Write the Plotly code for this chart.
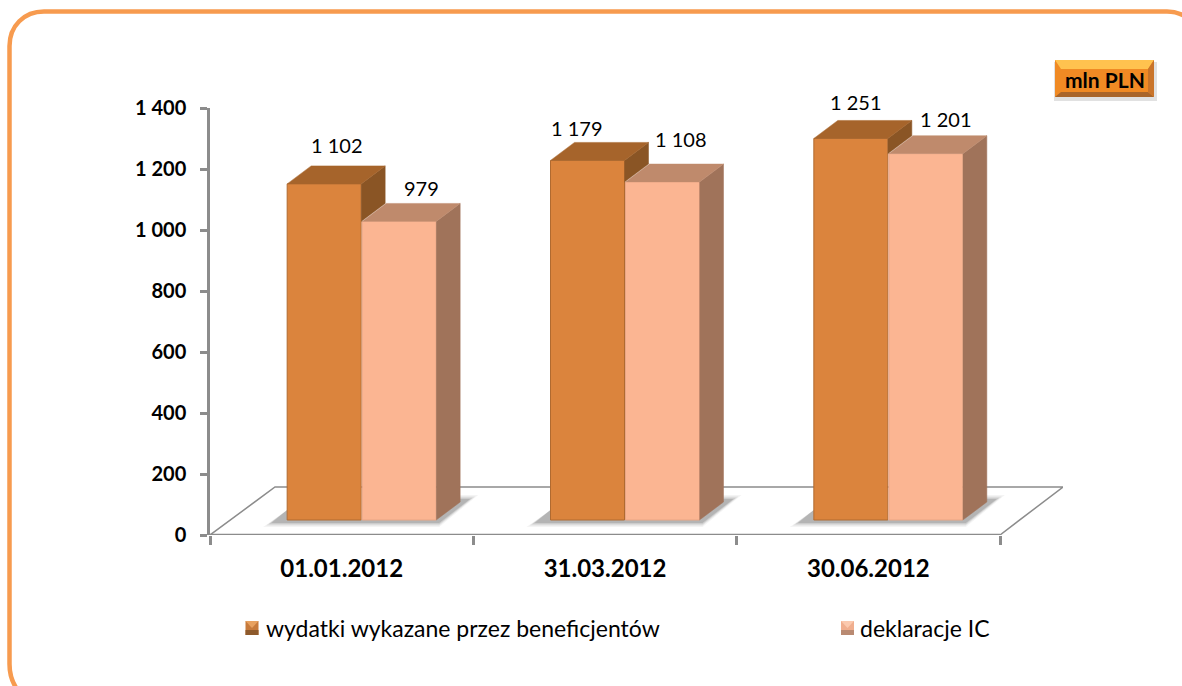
import plotly.graph_objects as go

categories = ["01.01.2012", "31.03.2012", "30.06.2012"]
series_1_name = "wydatki wykazane przez beneficjentów"
series_2_name = "deklaracje IC"
series_1 = [1102, 1179, 1251]
series_2 = [979, 1108, 1201]
y_ticks = [0, 200, 400, 600, 800, 1000, 1200, 1400]
y_tick_labels = ["0", "200", "400", "600", "800", "1 000", "1 200", "1 400"]
value_labels_1 = ["1 102", "1 179", "1 251"]
value_labels_2 = ["979", "1 108", "1 201"]

W, H = 1182, 686
L, R, T, B = 210, 1063, 108, 535
CAT = (1000 - L) / 3
UY = (B - T) / 1400
FONT = "Lato"
BASE = 15 / UY
DX = 24 / CAT
DY = 18 / UY
BW = 74 / CAT
SHIFT = 20 / CAT
GAP = 37.5 / CAT

def fx(p): return (p - L) / (R - L)
def fy(p): return (B - p) / (B - T)

def xdata(px_offset): return px_offset / CAT
def ydata(px_offset): return px_offset / UY

C1 = dict(front="#DB843D", top="#A6642B", side="#8A5525", edge="#B06A30")
C2 = dict(front="#FBB592", top="#BF8A6C", side="#A0735A", edge="#E8A584")

fig = go.Figure()
x1 = [i + 0.5 + SHIFT - GAP for i in range(3)]
x2 = [i + 0.5 + SHIFT + GAP for i in range(3)]

for x, v, c, name in [(x1, series_1, C1, series_1_name), (x2, series_2, C2, series_2_name)]:
    fig.add_trace(go.Bar(x=x, y=v, base=BASE, width=BW, name=name, hoverinfo="skip",
                         marker=dict(color=c["front"], line=dict(color=c["edge"], width=1))))

def poly(xs, ys, color):
    fig.add_trace(go.Scatter(x=xs, y=ys, mode="lines", fill="toself", fillcolor=color,
                             line=dict(color=color, width=0.5), hoverinfo="skip", showlegend=False))

for i in range(3):
    for x, v, c, low in [(x1[i], series_1[i], C1, series_2[i]), (x2[i], series_2[i], C2, 0)]:
        xl, xr = x - BW / 2, x + BW / 2
        top = BASE + v
        bottom = BASE + low
        poly([xr, xr + DX, xr + DX, xr], [top, top + DY, bottom + DY, bottom], c["side"])
        poly([xl, xl + DX, xr + DX, xr], [top, top + DY, top + DY, top], c["top"])

shapes = []
# floor
floor_h = ydata(B - 487)
floor_dx = xdata(65)
shapes.append(dict(type="path", xref="x", yref="y", layer="below",
                   path=f"M 0,0 L {floor_dx},{floor_h} L {xdata(R - L)},{floor_h} L 3,0",
                   line=dict(color="#8C8C8C", width=1.5)))
# x axis line
shapes.append(dict(type="line", xref="x", yref="y", x0=0, x1=3, y0=0, y1=0, layer="below",
                   line=dict(color="#8C8C8C", width=2.5)))
# floor shadows
for i in range(3):
    left = x1[i] - BW / 2
    right = x2[i] + BW / 2
    for grow, alpha in [(8, 0.06), (5, 0.10), (2.5, 0.14), (0, 0.18)]:
        a = xdata(grow)
        b = ydata(grow * 0.5)
        pts = [(left - xdata(16) - a, BASE - ydata(3) - b), (right + xdata(3), BASE - ydata(3) - b),
               (right + xdata(34) + a, BASE + ydata(21) + b), (right + xdata(20), BASE + ydata(21) + b),
               (right, BASE), (left, BASE), (left, BASE + ydata(10))]
        path = "M " + " L ".join(f"{px},{py}" for px, py in pts) + " Z"
        shapes.append(dict(type="path", xref="x", yref="y", layer="below", path=path,
                           fillcolor=f"rgba(70,70,70,{alpha})", line=dict(width=0)))

# rounded frame
shapes.append(dict(type="path", xref="paper", yref="paper", layer="below",
                   path=(f"M {fx(24)},{fy(697)} C {fx(14)},{fy(688)} {fx(9.5)},{fy(678)} {fx(9.5)},{fy(664)} "
                         f"L {fx(9.5)},{fy(46)} C {fx(9.5)},{fy(26)} {fx(24)},{fy(11.5)} {fx(44)},{fy(11.5)} "
                         f"L {fx(1167)},{fy(11.5)} C {fx(1177)},{fy(11.5)} {fx(1186)},{fy(15)} {fx(1195)},{fy(24)}"),
                   line=dict(color="#F79B4F", width=4.5)))

def rect(x0, y0, x1_, y1_, color):
    shapes.append(dict(type="rect", xref="paper", yref="paper", x0=fx(x0), x1=fx(x1_), y0=fy(y0), y1=fy(y1_),
                       fillcolor=color, line=dict(width=0)))

def tri(points, color):
    path = "M " + " L ".join(f"{fx(a)},{fy(b)}" for a, b in points) + " Z"
    shapes.append(dict(type="path", xref="paper", yref="paper", path=path, fillcolor=color, line=dict(width=0)))

# unit badge
rect(1054, 62, 1157, 101, "rgba(90,90,90,0.18)")
rect(1055, 60, 1154, 97, "#F08A24")
tri([(1055, 60), (1154, 60), (1148, 69), (1061, 69)], "#FFC24F")
tri([(1055, 97), (1154, 97), (1148, 92), (1061, 92)], "#A9652A")
tri([(1154, 60), (1154, 97), (1148, 92), (1148, 69)], "#C9742A")

# legend swatches
for sx, main, hi, lo in [(245.5, "#C77A3B", "#E8A15F", "#8E5A2C"), (841, "#F0AE8E", "#FBC9AE", "#B98A72")]:
    rect(sx, 621, sx + 13, 635, main)
    tri([(sx, 621), (sx + 13, 621), (sx + 6.5, 628)], hi)
    tri([(sx, 635), (sx + 13, 635), (sx + 13, 630), (sx, 630)], lo)

annotations = []
offsets_1 = [(13, 39), (-11, 32), (5, 36)]
offsets_2 = [(22, 33), (18, 43), (20, 35)]
for x, vals, texts, offs in [(x1, series_1, value_labels_1, offsets_1), (x2, series_2, value_labels_2, offsets_2)]:
    for i in range(3):
        annotations.append(dict(x=x[i], y=BASE + vals[i], text=texts[i], showarrow=False,
                                xshift=offs[i][0], yshift=offs[i][1],
                                font=dict(family=FONT, size=20, color="#000000")))
annotations.append(dict(xref="paper", yref="paper", x=fx(1105), y=fy(80), xanchor="center", yanchor="middle",
                        text="mln PLN", showarrow=False,
                        font=dict(family=FONT, size=21, color="#000000", weight=700)))
annotations.append(dict(xref="paper", yref="paper", x=fx(264), y=fy(628), xanchor="left", yanchor="middle",
                        text=series_1_name, showarrow=False, font=dict(family=FONT, size=23, color="#000000")))
annotations.append(dict(xref="paper", yref="paper", x=fx(858), y=fy(628), xanchor="left", yanchor="middle",
                        text=series_2_name, showarrow=False, font=dict(family=FONT, size=23, color="#000000")))

fig.update_layout(
    width=W, height=H, barmode="overlay", showlegend=False,
    margin=dict(l=L, r=W - R, t=T, b=H - B, pad=0),
    paper_bgcolor="white", plot_bgcolor="white",
    shapes=shapes, annotations=annotations,
    xaxis=dict(range=[0, (R - L) / CAT], tickmode="array", tickvals=[0.5, 1.5, 2.5], ticktext=categories,
               ticks="", showgrid=False, zeroline=False, showline=False,
               tickfont=dict(family=FONT, size=24, color="#000000", weight=700), ticklabelstandoff=17,
               minor=dict(tickmode="array", tickvals=[0, 1, 2, 3], ticks="outside", ticklen=9, tickwidth=2.5,
                          tickcolor="#8C8C8C", showgrid=False)),
    yaxis=dict(range=[0, 1400], tickmode="array", tickvals=y_ticks, ticktext=y_tick_labels,
               ticks="outside", ticklen=7, tickwidth=2.5, tickcolor="#8C8C8C",
               showline=True, linecolor="#8C8C8C", linewidth=2.5, showgrid=False, zeroline=False,
               tickfont=dict(family=FONT, size=20, color="#000000", weight=700), ticklabelstandoff=10),
)

fig.write_html("out.html", config=dict(displayModeBar=False), post_script="document.body.style.margin='0';")
